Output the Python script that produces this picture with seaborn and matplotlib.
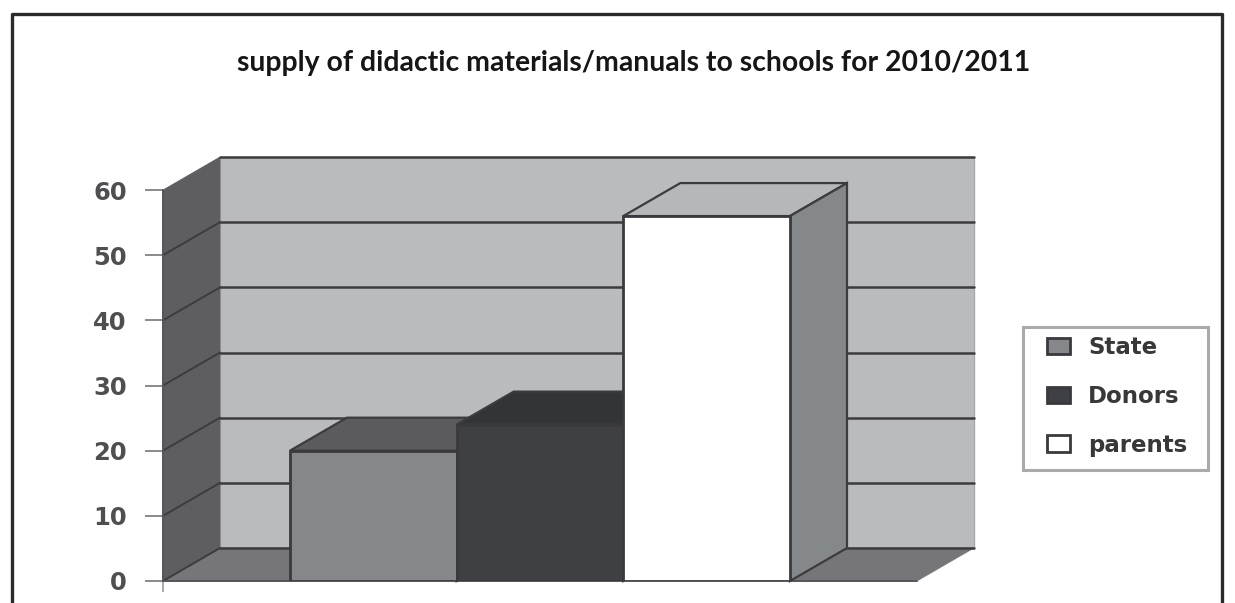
import matplotlib
matplotlib.use("Agg")
import matplotlib.pyplot as plt
from matplotlib.patches import Polygon, Rectangle
from matplotlib.lines import Line2D
import seaborn as sns
import pandas as pd

sources = ["State", "Donors", "parents"]
shares = [20, 24, 56]
y_ticks = [0, 10, 20, 30, 40, 50, 60]
title = "supply of didactic materials/manuals to schools for 2010/2011"
front_colors = ["#85878a", "#3e4043", "#ffffff"]
top_colors = ["#5b5b5f", "#333436", "#b6b7ba"]
side_colors = ["#6f7073", "#333436", "#85888b"]

W, H = 1235, 603
sns.set_style("white")
plt.rcParams["font.family"] = ["DejaVu Sans"]
fig = plt.figure(figsize=(W / 100, H / 100), dpi=100)
ax = fig.add_axes([163 / W, 1 - 581 / H, (917 - 163) / W, (581 - 190) / H])

df = pd.DataFrame({"source": sources, "share": shares})
sns.barplot(data=df, x="source", y="share", hue="source", palette=front_colors,
            width=1.0, dodge=False, legend=False, ax=ax,
            edgecolor="#3a3a3e", linewidth=2.0, saturation=1)

x0, x1 = -1.262, 3.262
ax.set_xlim(x0, x1)
ax.set_ylim(0, 60)
dx = 57 / (754 / (x1 - x0))
dy = 33 / (391 / 60)
LINE = "#3c3c40"

def poly(pts, fc, z, ec=LINE, lw=1.6):
    ax.add_patch(Polygon(pts, closed=True, facecolor=fc, edgecolor=ec,
                         linewidth=lw, zorder=z, clip_on=False, joinstyle="miter"))

# walls and floor
poly([(x0 + dx, dy), (x1 + dx, dy), (x1 + dx, 60 + dy), (x0 + dx, 60 + dy)], "#b9bbbd", 1, ec="#a9a9ac", lw=1.0)
poly([(x0, 0), (x0 + dx, dy), (x0 + dx, 60 + dy), (x0, 60)], "#5e5e62", 1.1, ec="#5e5e62", lw=0.5)
poly([(x0, 0), (x1, 0), (x1 + dx, dy), (x0 + dx, dy)], "#76767a", 1.1, ec="#76767a", lw=0.5)

for t in y_ticks:
    ax.plot([x0 + dx, x1 + dx], [t + dy, t + dy], color=LINE, lw=1.8, zorder=1.5, clip_on=False)
    if t < 60:
        ax.plot([x0, x0 + dx], [t, t + dy], color=LINE, lw=1.4, zorder=1.5, clip_on=False)
ax.plot([x0, x1], [0, 0], color="#55555a", lw=1.4, zorder=1.6, clip_on=False)
ax.plot([x0, x0], [0, 60], color="#55555a", lw=1.4, zorder=1.6, clip_on=False)

# bar depth faces
for i, (bars, val) in enumerate(zip(ax.containers, shares)):
    z = 3 + i
    bar = bars[0]
    bar.set_zorder(z + 0.5)
    l, r = bar.get_x(), bar.get_x() + bar.get_width()
    poly([(l, val), (r, val), (r + dx, val + dy), (l + dx, val + dy)], top_colors[i], z)
    poly([(r, 0), (r + dx, dy), (r + dx, val + dy), (r, val)], side_colors[i], z)

ax.set_xlabel("")
ax.set_ylabel("")
ax.set_xticks([x0])
ax.set_xticklabels([""])
ax.tick_params(axis="x", length=8, width=1.2, color="#9a9a9d", bottom=True)
ax.set_yticks(y_ticks)
ax.tick_params(axis="y", length=13, width=1.2, color="#77777a", pad=13, left=True,
               labelsize=17.5, labelcolor="#4f4f52")
for lab in ax.get_yticklabels():
    lab.set_fontweight("bold")
for s in ax.spines.values():
    s.set_visible(False)
ax.patch.set_alpha(0)

# legend: box and rows
fig.add_artist(Rectangle((1023 / W, 1 - 470 / H), 185 / W, 143 / H, transform=fig.transFigure,
                         facecolor="white", edgecolor="#aaaaaa", linewidth=2.2, zorder=5))
handles = [c[0] for c in ax.containers]
leg = fig.legend(handles, sources, loc="upper left",
                 bbox_to_anchor=(1047 / W, 1 - 336 / H),
                 borderaxespad=0, borderpad=0, frameon=False,
                 handlelength=1.0, handleheight=0.75, handletextpad=0.8, labelspacing=1.13,
                 prop={"weight": "bold", "size": 16.5})
leg.set_zorder(6)
for t in leg.get_texts():
    t.set_color("#38383b")

fig.text(634 / W, 1 - 63 / H, title, ha="center", va="center", fontsize=20.4,
         fontweight="bold", family="Lato", color="#161616")

# outer frame (runs past the bottom of the picture)
fig.add_artist(Line2D([12 / W, 12 / W, 1222 / W, 1222 / W], [-0.02, 1 - 14 / H, 1 - 14 / H, -0.02],
                      color="#2b2b2e", lw=2.4, transform=fig.transFigure))

fig.savefig("out.png", dpi=100)
